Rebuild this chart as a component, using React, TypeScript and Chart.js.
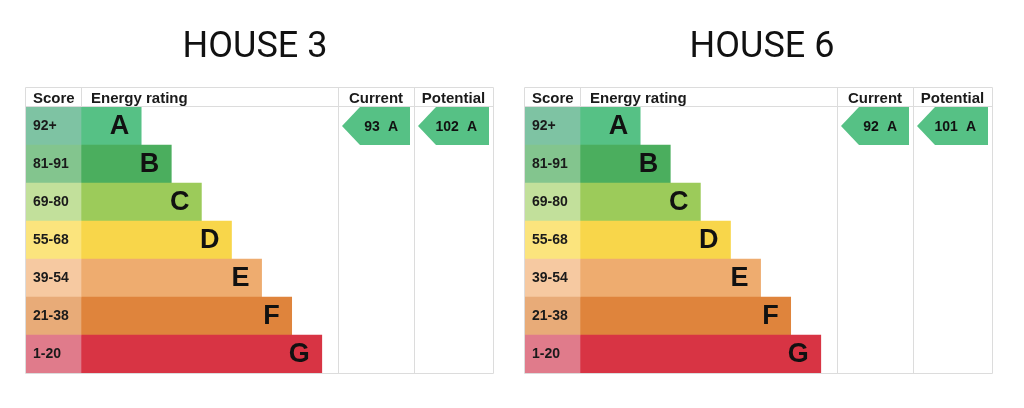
import React, { useEffect, useRef } from 'react';
import { Chart, registerables } from 'chart.js';

Chart.register(...registerables);

// ---------- data ----------
const bands = ['A', 'B', 'C', 'D', 'E', 'F', 'G'];
const scoreRanges = ['92+', '81-91', '69-80', '55-68', '39-54', '21-38', '1-20'];
const bandLengths = [2, 3, 4, 5, 6, 7, 8];
const bandColors = ['#56c185', '#4bae5e', '#9ccb5a', '#f8d64a', '#eeac6f', '#df843c', '#d83444'];
const scoreColors = ['#7ec3a3', '#83c58e', '#c2e09b', '#fbe47d', '#f6c9a1', '#e8ab78', '#e07b8b'];

const houseTitles = ['HOUSE 3', 'HOUSE 6'];
const currentScores = [93, 92];
const currentBands = ['A', 'A'];
const potentialScores = [102, 101];
const potentialBands = ['A', 'A'];

// ---------- layout ----------
const CW = 500;
const CH = 408;
const OFFSETS = [0, 499];
const TITLE_X = [255, 263];
const X_MIN = -1.827;
const X_MAX = 13.688;
const CURRENT_X = 8.538;
const POTENTIAL_X = 11.063;
const FONT = '"Liberation Sans", Arial, Helvetica, sans-serif';
const LINE = '#dcdcdc';

function makeOverlay(idx: number) {
  return {
    id: 'epcOverlay',
    afterDatasetsDraw(chart: any) {
      const ctx = chart.ctx;
      const xs = chart.scales.x;
      const ys = chart.scales.y;
      const rowH = ys.getPixelForValue(1) - ys.getPixelForValue(0);
      ctx.save();
      // band letters
      ctx.fillStyle = '#111';
      ctx.font = `bold 27px ${FONT}`;
      ctx.textAlign = 'right';
      ctx.textBaseline = 'middle';
      bands.forEach((b, i) => {
        const x = xs.getPixelForValue(bandLengths[i]) - 12;
        const y = ys.getPixelForValue(i) + 1;
        ctx.fillText(b, x, y);
      });
      // arrows
      const drawArrow = (colStart: number, colEnd: number, score: number, band: string) => {
        const bi = bands.indexOf(band);
        const cy = ys.getPixelForValue(bi);
        const top = cy - rowH / 2;
        const bottom = cy + rowH / 2;
        const left = xs.getPixelForValue(colStart) + 4;
        const right = xs.getPixelForValue(colEnd) - 4;
        const bodyLeft = left + 18;
        ctx.fillStyle = bandColors[bi];
        ctx.beginPath();
        ctx.moveTo(left, cy);
        ctx.lineTo(bodyLeft, top);
        ctx.lineTo(right, top);
        ctx.lineTo(right, bottom);
        ctx.lineTo(bodyLeft, bottom);
        ctx.closePath();
        ctx.fill();
        ctx.fillStyle = '#111';
        ctx.font = `bold 14px ${FONT}`;
        ctx.textAlign = 'right';
        ctx.textBaseline = 'middle';
        const lx = right - 12;
        ctx.fillText(band, lx, cy + 1);
        const lw = ctx.measureText(band).width;
        ctx.fillText(String(score), lx - lw - 8, cy + 1);
      };
      drawArrow(CURRENT_X, POTENTIAL_X, currentScores[idx], currentBands[idx]);
      drawArrow(POTENTIAL_X, X_MAX, potentialScores[idx], potentialBands[idx]);
      ctx.restore();
    },
    afterDraw(chart: any) {
      const ctx = chart.ctx;
      const xs = chart.scales.x;
      const area = chart.chartArea;
      const L = Math.round(area.left) - 0.5;
      const R = Math.round(area.right) + 0.5;
      const B = Math.round(area.bottom) + 0.5;
      const T = 87.5;
      const HB = Math.round(area.top) - 0.5;
      const xScoreEnd = Math.round(xs.getPixelForValue(0)) + 0.5;
      const xCur = Math.round(xs.getPixelForValue(CURRENT_X)) + 0.5;
      const xPot = Math.round(xs.getPixelForValue(POTENTIAL_X)) + 0.5;
      ctx.save();
      ctx.strokeStyle = LINE;
      ctx.lineWidth = 1;
      ctx.beginPath();
      ctx.moveTo(L, T); ctx.lineTo(R, T);
      ctx.moveTo(L, HB); ctx.lineTo(R, HB);
      ctx.moveTo(L, B); ctx.lineTo(R, B);
      ctx.moveTo(L, T); ctx.lineTo(L, B);
      ctx.moveTo(R, T); ctx.lineTo(R, B);
      ctx.moveTo(xCur, T); ctx.lineTo(xCur, B);
      ctx.moveTo(xPot, T); ctx.lineTo(xPot, B);
      ctx.moveTo(xScoreEnd, T); ctx.lineTo(xScoreEnd, HB);
      ctx.stroke();

      // header
      ctx.fillStyle = '#1a1a1a';
      ctx.font = `bold 15px ${FONT}`;
      ctx.textBaseline = 'alphabetic';
      const hy = 103;
      ctx.textAlign = 'left';
      ctx.fillText('Score', area.left + 7, hy);
      ctx.fillText('Energy rating', xs.getPixelForValue(0) + 10, hy);
      ctx.textAlign = 'center';
      ctx.fillText('Current', (xs.getPixelForValue(CURRENT_X) + xs.getPixelForValue(POTENTIAL_X)) / 2, hy);
      ctx.fillText('Potential', (xs.getPixelForValue(POTENTIAL_X) + xs.getPixelForValue(X_MAX)) / 2, hy);

      // title
      ctx.fillStyle = '#111';
      ctx.font = `400 36px Roboto, ${FONT}`;
      ctx.textAlign = 'center';
      ctx.fillText(houseTitles[idx], TITLE_X[idx], 57);
      ctx.restore();
    },
  };
}

function EpcChart({ idx }: { idx: number }) {
  const ref = useRef<HTMLCanvasElement>(null);
  useEffect(() => {
    if (!ref.current) return;
    const chart = new Chart(ref.current, {
      type: 'bar',
      data: {
        labels: scoreRanges,
        datasets: [
          {
            label: 'Score',
            data: scoreRanges.map(() => [X_MIN, 0]) as any,
            backgroundColor: scoreColors,
            borderWidth: 0,
            grouped: false,
            barPercentage: 1,
            categoryPercentage: 1,
          } as any,
          {
            label: 'Energy rating',
            data: bandLengths,
            backgroundColor: bandColors,
            borderWidth: 0,
            grouped: false,
            barPercentage: 1,
            categoryPercentage: 1,
          } as any,
        ],
      },
      options: {
        indexAxis: 'y',
        responsive: false,
        animation: false,
        devicePixelRatio: 1,
        layout: { padding: { top: 107, bottom: 35, left: 26, right: 7 } },
        plugins: {
          legend: { display: false },
          title: { display: false },
          tooltip: { enabled: false },
        },
        scales: {
          x: {
            type: 'linear',
            display: false,
            min: X_MIN,
            max: X_MAX,
          },
          y: {
            type: 'category',
            grid: { display: false },
            border: { display: false },
            afterFit: (s: any) => { s.width = 0; },
            ticks: {
              z: 1,
              mirror: true,
              padding: 7,
              color: '#1a1a1a',
              font: { family: FONT, size: 14, weight: 'bold' },
            },
          } as any,
        },
      } as any,
      plugins: [makeOverlay(idx)],
    });
    return () => chart.destroy();
  }, [idx]);
  return (
    <canvas
      ref={ref}
      width={CW}
      height={CH}
      style={{ position: 'absolute', left: OFFSETS[idx], top: 0, width: CW, height: CH }}
    />
  );
}

export default function App() {
  return (
    <div style={{ position: 'absolute', left: 0, top: 0, width: 1024, height: 408, background: '#fff', overflow: 'hidden' }}>
      <EpcChart idx={0} />
      <EpcChart idx={1} />
    </div>
  );
}
